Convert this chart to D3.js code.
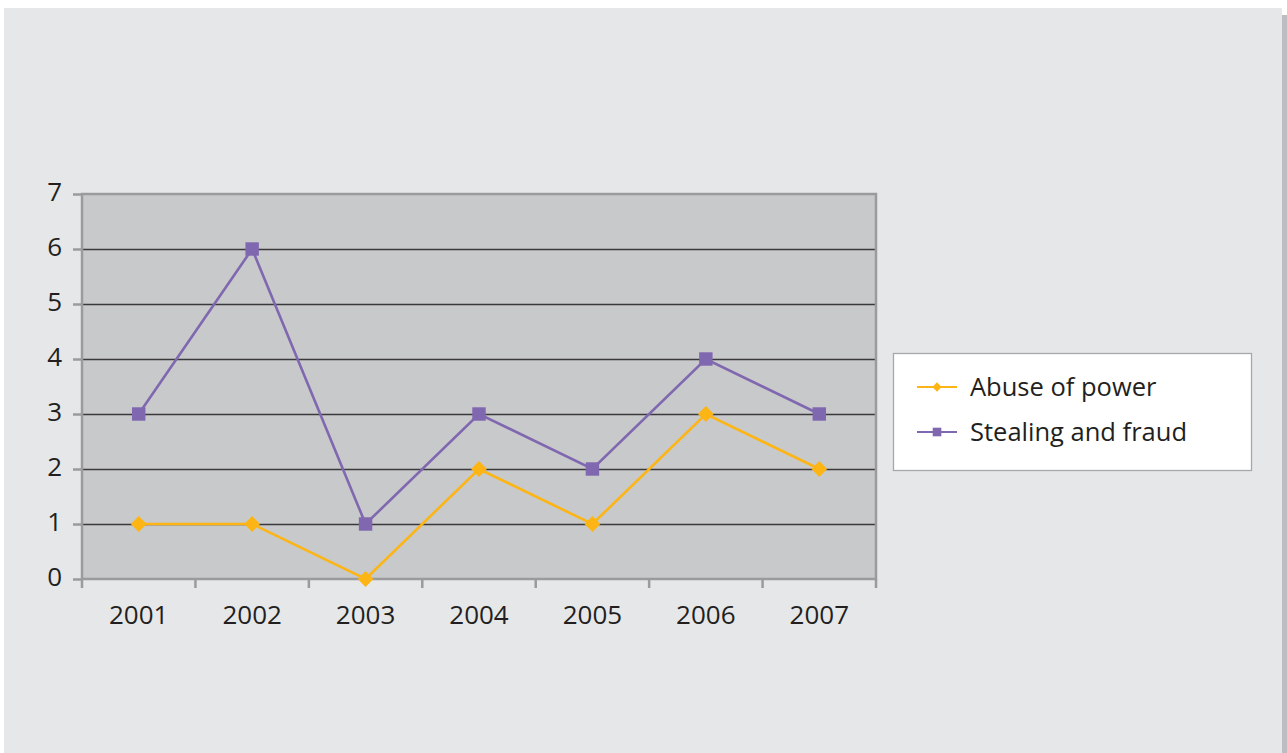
<!DOCTYPE html>
<html><head><meta charset="utf-8">
<script src="https://cdn.jsdelivr.net/npm/d3@7"></script>
<style>html,body{margin:0;padding:0;background:#fff;}svg{display:block;}</style>
</head><body>
<svg id="c" width="1287" height="753"></svg>
<script>
const years = ["2001","2002","2003","2004","2005","2006","2007"];
const abuseOfPower = [1,1,0,2,1,3,2];
const stealingAndFraud = [3,6,1,3,2,4,3];
const yTicks = [0,1,2,3,4,5,6,7];
const seriesNames = ["Abuse of power","Stealing and fraud"];

const svg = d3.select("#c");
const font = "'Open Sans', 'Noto Sans', sans-serif";
// panel
svg.append("rect").attr("x",1282).attr("y",15).attr("width",5).attr("height",738).attr("fill","#bcbdc0");
svg.append("rect").attr("x",4).attr("y",8).attr("width",1278).attr("height",745).attr("fill","#e6e7e9");

const L=82, R=876, T=194, B=579;
const x = d3.scaleBand().domain(years).range([L,R]);
const y = d3.scaleLinear().domain([0,7]).range([B,T]);

svg.append("rect").attr("x",L).attr("y",T).attr("width",R-L).attr("height",B-T).attr("fill","#c8c9cb");

// gridlines
svg.append("g").selectAll("line").data(yTicks.filter(d=>d>0&&d<7)).join("line")
  .attr("x1",L).attr("x2",R).attr("y1",d=>Math.round(y(d))+0.5).attr("y2",d=>Math.round(y(d))+0.5)
  .attr("stroke","#3a3a3c").attr("stroke-width",1.3);

// border
svg.append("rect").attr("x",L).attr("y",T).attr("width",R-L).attr("height",B-T)
  .attr("fill","none").attr("stroke","#9a9b9d").attr("stroke-width",2.5);

// y axis
const ya = svg.append("g").attr("transform",`translate(${L},0)`)
  .call(d3.axisLeft(y).tickValues(yTicks).tickFormat(d3.format("d")).tickSize(9).tickPadding(11));
ya.select(".domain").remove();
ya.selectAll(".tick line").attr("stroke","#9a9b9d").attr("stroke-width",2.5);
ya.selectAll(".tick text").attr("fill","#231f20").attr("dy","0.25em").style("font-family",font).style("font-size","26px");

// x axis
const xa = svg.append("g").attr("transform",`translate(0,${B})`)
  .call(d3.axisBottom(x).tickSize(0).tickPadding(27));
xa.select(".domain").remove();
xa.selectAll(".tick text").attr("fill","#231f20").style("font-family",font).style("font-size","26px");
const edges = d3.range(years.length+1).map(i => L + i*x.step());
svg.append("g").selectAll("line").data(edges).join("line")
  .attr("x1",d=>d).attr("x2",d=>d).attr("y1",B).attr("y2",B+9)
  .attr("stroke","#9a9b9d").attr("stroke-width",2.5);

const cx = d => x(d) + x.bandwidth()/2;
const colors = ["#fdb515","#8068b0"];
const line = d3.line().x(d=>cx(d[0])).y(d=>y(d[1]));

function drawSeries(vals, color, shape, size){
  const pts = years.map((yr,i)=>[yr, vals[i]]);
  svg.append("path").datum(pts).attr("d",line).attr("fill","none")
    .attr("stroke",color).attr("stroke-width",2.6);
  svg.append("g").selectAll("path").data(pts).join("path")
    .attr("transform",d=>`translate(${cx(d[0])},${y(d[1])})`)
    .attr("d", d3.symbol().type(shape).size(size)())
    .attr("fill",color);
}
drawSeries(abuseOfPower, colors[0], d3.symbolDiamond2, 160);
drawSeries(stealingAndFraud, colors[1], d3.symbolSquare2, 230);

// legend
const lg = svg.append("g");
lg.append("rect").attr("x",893.5).attr("y",353.5).attr("width",358).attr("height",117)
  .attr("fill","#fff").attr("stroke","#a7a8aa").attr("stroke-width",1.3);
const shapes = [[d3.symbolDiamond2,55],[d3.symbolSquare2,95]];
seriesNames.forEach((n,i)=>{
  const yy = 387 + i*45;
  lg.append("line").attr("x1",917).attr("x2",957).attr("y1",yy).attr("y2",yy)
    .attr("stroke",colors[i]).attr("stroke-width",2);
  lg.append("path").attr("transform",`translate(937,${yy})`)
    .attr("d",d3.symbol().type(shapes[i][0]).size(shapes[i][1])()).attr("fill",colors[i]);
  lg.append("text").attr("x",970).attr("y",yy).attr("dy","0.35em")
    .attr("fill","#231f20").style("font-family",font).style("font-size","25.5px").text(n);
});
</script>
</body></html>
